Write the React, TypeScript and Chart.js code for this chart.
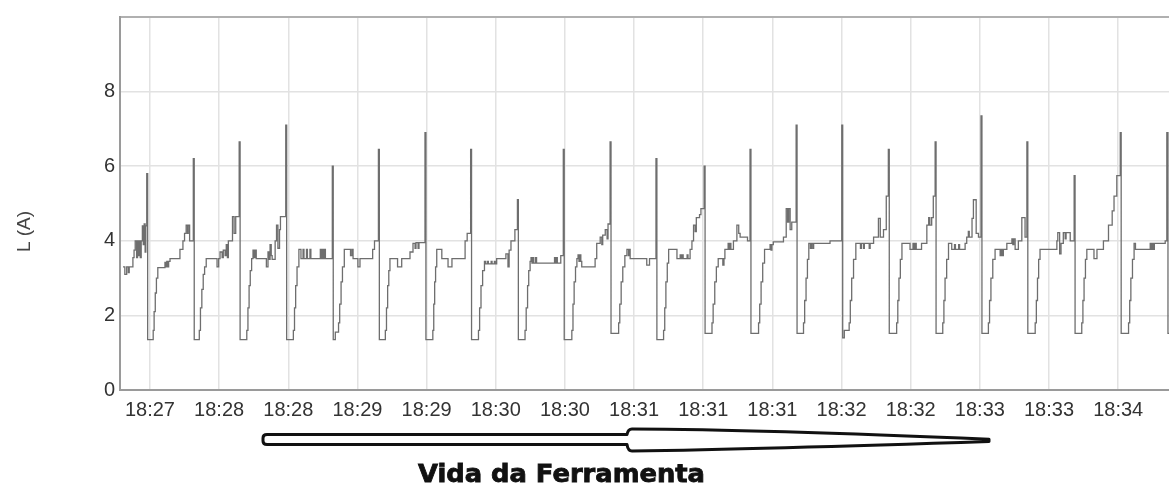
import { useEffect, useRef } from 'react';
import { Chart, registerables } from 'chart.js';

Chart.register(...registerables);

// time in seconds (gridline "18:27" = 0 s, one gridline every 30 s)
const xTickSeconds = [0, 30, 60, 90, 120, 150, 180, 210, 240, 270, 300, 330, 360, 390, 420];
const xTickLabels = ['18:27', '18:28', '18:28', '18:29', '18:29', '18:30', '18:30', '18:31', '18:31', '18:31', '18:32', '18:32', '18:33', '18:33', '18:34'];
const yTickValues = [0, 2, 4, 6, 8, 10];
const yAxisTitle = 'L (A)';
const xAxisTitle = 'Vida da Ferramenta';

// [time s, current A] change points of the stepped trace
const currentTrace: [number, number][] = [
  [-11.7, 3.3], [-10.9, 3.1], [-10.1, 3.3], [-9.4, 3.15], [-9.0, 3.3], [-7.4, 3.55], [-6.9, 3.75], [-6.4, 4.0], [-5.8, 3.55], [-5.4, 4.0], [-5.0, 3.6], [-4.6, 4.0], [-4.2, 3.55], [-3.8, 4.0], [-3.3, 4.4], [-2.9, 3.9], [-2.5, 4.45], [-2.1, 3.7], [-1.8, 4.4], [-1.4, 5.8], [-1.0, 1.35],
  [1.4, 1.6], [1.8, 2.1], [2.3, 2.6], [2.8, 3.0], [3.4, 3.28], [6.5, 3.42], [6.9, 3.3], [7.3, 3.45], [7.7, 3.3], [8.1, 3.45], [8.7, 3.52], [13.0, 3.77], [14.3, 4.0], [15.0, 4.2], [15.7, 4.42], [16.3, 4.2], [16.6, 4.42], [17.2, 4.0], [18.8, 6.2], [19.2, 1.35],
  [21.4, 1.6], [21.9, 2.2], [22.5, 2.7], [23.1, 3.1], [23.7, 3.3], [24.4, 3.52], [29.1, 3.3], [29.8, 3.52], [30.4, 3.7], [31.3, 3.55], [31.8, 3.75], [32.6, 3.6], [33.1, 3.9], [33.6, 3.55], [34.0, 4.0], [35.8, 4.65], [36.5, 4.2], [37.2, 4.65], [38.7, 6.65], [39.1, 1.35],
  [42.0, 1.6], [42.5, 2.2], [43.0, 2.8], [43.5, 3.2], [44.1, 3.52], [44.7, 3.75], [45.2, 3.55], [45.6, 3.75], [46.1, 3.52], [50.5, 3.3], [51.2, 3.7], [51.7, 3.5], [52.1, 3.9], [52.6, 3.6], [53.0, 3.5], [54.3, 4.0], [54.9, 4.42], [55.5, 3.8], [56.2, 4.3], [56.6, 4.65], [58.9, 7.1], [59.3, 1.35],
  [62.2, 1.6], [62.7, 2.2], [63.2, 2.8], [63.8, 3.3], [64.6, 3.77], [65.5, 3.52], [66.4, 3.77], [66.8, 3.52], [67.9, 3.77], [68.3, 3.52], [69.4, 3.77], [69.8, 3.52], [73.9, 3.77], [74.3, 3.52], [74.8, 3.77], [75.2, 3.52], [75.7, 3.77], [76.1, 3.52], [79.1, 6.0], [79.5, 1.35],
  [80.4, 1.55], [81.8, 1.8], [82.3, 2.3], [82.9, 2.9], [83.5, 3.3], [84.3, 3.77], [87.0, 3.6], [87.6, 3.77], [88.1, 3.52], [90.2, 3.3], [91.1, 3.52], [96.6, 3.77], [97.4, 4.0], [99.1, 6.45], [99.5, 1.35],
  [102.1, 1.6], [102.6, 2.2], [103.1, 2.8], [103.6, 3.2], [104.1, 3.52], [107.4, 3.3], [109.2, 3.52], [112.8, 3.7], [114.1, 3.93], [115.0, 3.8], [115.4, 3.95], [116.3, 3.8], [116.7, 3.95], [119.3, 6.9], [119.7, 1.35],
  [122.7, 1.6], [123.1, 2.3], [123.5, 2.9], [123.9, 3.3], [124.4, 3.77], [126.6, 3.52], [129.3, 3.3], [131.0, 3.52], [136.7, 4.0], [137.6, 4.2], [139.1, 6.45], [139.5, 1.35],
  [142.5, 1.6], [143.0, 2.2], [143.6, 2.8], [144.3, 3.2], [145.1, 3.45], [145.6, 3.38], [146.4, 3.45], [146.8, 3.38], [148.0, 3.45], [148.4, 3.38], [149.4, 3.45], [149.8, 3.38], [150.4, 3.52], [154.4, 3.65], [155.3, 3.3], [155.8, 3.75], [156.6, 4.0], [158.3, 4.3], [159.4, 5.1], [159.8, 1.35],
  [162.7, 1.6], [163.2, 2.2], [163.8, 2.8], [164.3, 3.2], [164.9, 3.45], [165.3, 3.55], [165.7, 3.4], [166.1, 3.55], [166.5, 3.4], [167.3, 3.55], [167.7, 3.4], [175.5, 3.55], [175.9, 3.4], [176.3, 3.55], [176.7, 3.4], [178.2, 3.6], [179.3, 6.45], [179.7, 1.35],
  [183.0, 1.6], [183.5, 2.3], [184.0, 2.9], [184.6, 3.3], [185.2, 3.52], [185.7, 3.62], [186.1, 3.45], [186.5, 3.62], [186.9, 3.45], [187.3, 3.3], [193.1, 3.52], [193.8, 3.93], [195.3, 4.1], [196.0, 3.9], [196.4, 4.15], [197.5, 4.3], [198.3, 4.05], [198.7, 4.45], [199.6, 6.65], [200.0, 1.52],
  [203.3, 1.8], [203.8, 2.3], [204.4, 2.9], [205.1, 3.3], [206.0, 3.6], [206.9, 3.77], [207.6, 3.6], [208.0, 3.77], [208.3, 3.52], [215.5, 3.35], [216.7, 3.52], [219.5, 6.2], [219.9, 1.35],
  [222.8, 1.6], [223.3, 2.2], [223.8, 2.9], [224.4, 3.4], [225.0, 3.77], [228.6, 3.52], [230.0, 3.62], [230.4, 3.52], [230.9, 3.62], [231.3, 3.52], [233.0, 3.62], [233.4, 3.52], [234.3, 3.77], [235.1, 4.0], [235.8, 4.42], [236.5, 4.25], [237.0, 4.62], [238.4, 4.7], [239.0, 4.86], [240.4, 6.0], [240.8, 1.52],
  [243.8, 1.8], [244.3, 2.3], [245.0, 2.9], [245.7, 3.3], [246.5, 3.52], [248.5, 3.35], [249.0, 3.52], [249.4, 3.77], [250.8, 3.93], [251.2, 3.77], [251.6, 3.93], [252.0, 3.77], [253.1, 4.0], [254.6, 4.42], [255.4, 4.2], [256.0, 4.1], [259.2, 4.0], [260.3, 6.45], [260.7, 1.52],
  [264.0, 1.8], [264.5, 2.3], [265.1, 2.9], [265.8, 3.4], [266.6, 3.77], [269.0, 3.9], [269.4, 3.75], [269.8, 3.9], [270.4, 3.97], [274.8, 4.1], [276.0, 4.86], [276.6, 4.5], [277.1, 4.86], [277.7, 4.3], [278.4, 4.5], [280.3, 7.1], [280.7, 1.52],
  [283.5, 1.8], [284.0, 2.4], [284.6, 3.0], [285.2, 3.5], [285.8, 3.93], [286.5, 3.8], [286.9, 3.93], [287.5, 3.8], [287.9, 3.93], [295.0, 4.0], [300.1, 7.1], [300.5, 1.4], [301.2, 1.6],
  [303.3, 1.8], [303.8, 2.4], [304.4, 3.0], [305.2, 3.5], [306.2, 3.93], [308.2, 3.8], [308.6, 3.93], [309.5, 3.8], [309.9, 3.93], [312.0, 3.8], [312.4, 3.93], [313.9, 4.1], [316.0, 4.6], [316.8, 4.1], [318.2, 4.3], [319.4, 5.2], [320.3, 6.45], [320.7, 1.52],
  [323.9, 1.8], [324.4, 2.4], [324.9, 3.0], [325.5, 3.5], [326.2, 3.93], [329.7, 3.77], [331.0, 3.93], [331.5, 3.77], [332.0, 3.93], [332.4, 3.77], [334.7, 3.93], [337.0, 4.42], [337.8, 4.62], [338.3, 4.42], [339.1, 4.62], [339.8, 5.2], [340.6, 6.65], [341.0, 1.52],
  [343.9, 1.8], [344.4, 2.4], [344.9, 3.0], [345.6, 3.5], [346.4, 3.93], [347.8, 3.77], [349.0, 3.9], [349.4, 3.77], [350.8, 3.9], [351.2, 3.77], [353.6, 3.93], [354.3, 4.1], [355.0, 4.25], [355.4, 4.1], [356.6, 4.6], [357.2, 5.1], [358.4, 4.2], [359.4, 4.1], [360.5, 7.35], [360.9, 1.52],
  [363.7, 1.8], [364.2, 2.4], [364.8, 3.0], [365.6, 3.5], [366.6, 3.77], [368.8, 3.6], [369.3, 3.77], [369.7, 3.6], [370.2, 3.77], [371.7, 3.93], [373.9, 4.05], [374.3, 3.9], [374.7, 4.05], [375.3, 3.77], [376.7, 4.0], [378.2, 4.62], [379.6, 4.1], [380.4, 6.65], [380.8, 1.52],
  [384.0, 1.8], [384.5, 2.4], [385.0, 3.0], [385.5, 3.5], [386.1, 3.77], [393.4, 4.0], [393.8, 4.22], [394.6, 3.65], [395.2, 3.93], [396.2, 4.22], [397.0, 4.05], [397.4, 4.22], [399.2, 4.0], [400.9, 5.75], [401.3, 1.52],
  [404.2, 1.8], [404.7, 2.4], [405.2, 3.0], [405.8, 3.5], [406.4, 3.77], [409.5, 3.52], [410.8, 3.77], [413.6, 4.0], [415.8, 4.42], [417.4, 4.8], [418.2, 5.2], [419.4, 5.75], [420.9, 6.9], [421.3, 1.52],
  [424.5, 1.8], [425.0, 2.4], [425.5, 3.0], [426.2, 3.5], [426.9, 3.93], [427.5, 3.77], [433.9, 3.93], [434.3, 3.77], [434.8, 3.93], [435.2, 3.77], [435.7, 3.93], [440.4, 4.0], [441.1, 6.9], [441.6, 1.52], [446.0, 1.52],
];

const decorPlugin = {
  id: 'decor',
  afterDraw(chart: any) {
    const ctx: CanvasRenderingContext2D = chart.ctx;
    // y axis title
    ctx.save();
    ctx.translate(25, 231.5);
    ctx.rotate(-Math.PI / 2);
    ctx.font = '19px "Liberation Sans", Arial, sans-serif';
    ctx.fillStyle = '#444';
    ctx.textAlign = 'center';
    ctx.textBaseline = 'middle';
    ctx.fillText(yAxisTitle, 0, 0);
    ctx.restore();

    // arrow
    ctx.save();
    const L = 263, B = 627, T = 989;
    ctx.beginPath();
    ctx.moveTo(L + 4, 434.5);
    ctx.lineTo(B, 434.5);
    ctx.quadraticCurveTo(B + 1, 429, B + 5, 429);
    ctx.quadraticCurveTo(760, 429.5, T, 439.2);
    ctx.lineTo(T, 441.4);
    ctx.quadraticCurveTo(760, 449, B + 5, 451);
    ctx.quadraticCurveTo(B + 1, 451, B, 444.5);
    ctx.lineTo(L + 4, 444.5);
    ctx.quadraticCurveTo(L, 444.5, L, 441);
    ctx.lineTo(L, 438);
    ctx.quadraticCurveTo(L, 434.5, L + 4, 434.5);
    ctx.closePath();
    ctx.fillStyle = '#fff';
    ctx.fill();
    ctx.lineWidth = 3;
    ctx.lineJoin = 'round';
    ctx.strokeStyle = '#111';
    ctx.stroke();
    ctx.restore();

    // bottom title
    ctx.save();
    ctx.font = 'bold 24px "DejaVu Sans", sans-serif';
    const w = ctx.measureText(xAxisTitle).width;
    ctx.translate(561.5, 482);
    ctx.scale(287 / w, 1);
    ctx.fillStyle = '#111';
    ctx.strokeStyle = '#111';
    ctx.lineWidth = 0.8;
    ctx.textAlign = 'center';
    ctx.textBaseline = 'alphabetic';
    ctx.fillText(xAxisTitle, 0, 0);
    ctx.strokeText(xAxisTitle, 0, 0);
    ctx.restore();
  },
};

export default function App() {
  const ref = useRef<HTMLCanvasElement>(null);
  useEffect(() => {
    if (!ref.current) return;
    const tickFont = { family: '"Liberation Sans", Arial, sans-serif', size: 20 };
    const chart = new Chart(ref.current, {
      type: 'line',
      data: {
        datasets: [
          {
            data: currentTrace.map(([x, y]) => ({ x, y })),
            stepped: true,
            borderColor: '#6e6e6e',
            borderWidth: 1.3,
            pointRadius: 0,
            fill: false,
          },
        ],
      },
      options: {
        animation: false,
        responsive: false,
        devicePixelRatio: 1,
        events: [],
        plugins: { legend: { display: false }, tooltip: { enabled: false } },
        layout: { padding: { top: 13, left: 0, right: 0, bottom: 0 } },
        scales: {
          x: {
            type: 'linear',
            min: -13,
            max: 462,
            afterBuildTicks: (s: any) => {
              s.ticks = xTickSeconds.map((v) => ({ value: v }));
            },
            afterFit: (s: any) => {
              s.height = 97;
            },
            ticks: {
              autoSkip: false,
              maxRotation: 0,
              minRotation: 0,
              padding: 8,
              color: '#333',
              font: tickFont,
              callback: (_v: any, i: number) => xTickLabels[i] ?? '',
            },
            grid: { color: '#e2e2e2', lineWidth: 1.5, drawTicks: false },
            border: { color: '#9a9a9a', width: 2 },
          },
          y: {
            type: 'linear',
            min: 0,
            max: 10,
            afterBuildTicks: (s: any) => {
              s.ticks = yTickValues.map((v) => ({ value: v }));
            },
            afterFit: (s: any) => {
              s.width = 120;
            },
            ticks: {
              padding: 5,
              color: '#333',
              font: tickFont,
              callback: (v: any) => (v === 10 ? '' : String(v)),
            },
            grid: {
              color: (c: any) => (c.tick && c.tick.value === 10 ? '#b0b0b0' : '#e2e2e2'),
              lineWidth: (c: any) => (c.tick && c.tick.value === 10 ? 2 : 1.5),
              drawTicks: false,
            },
            border: { color: '#9a9a9a', width: 2 },
          },
        },
      },
      plugins: [decorPlugin],
    });
    return () => chart.destroy();
  }, []);
  return (
    <div style={{ position: 'fixed', left: 0, top: 0, width: 1169, height: 487, overflow: 'hidden', background: '#fff' }}>
      <canvas ref={ref} width={1215} height={487} style={{ display: 'block' }} />
    </div>
  );
}
